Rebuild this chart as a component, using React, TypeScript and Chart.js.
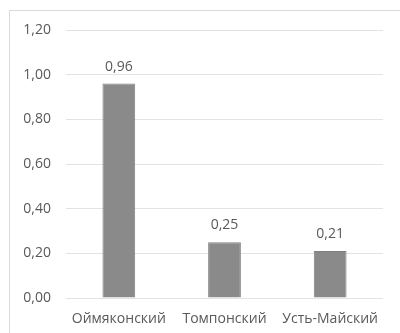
import React, { useEffect, useRef } from "react";
import { Chart, registerables } from "chart.js";

Chart.register(...registerables);

const districts = ["Оймяконский", "Томпонский", "Усть-Майский"];
const values = [0.96, 0.25, 0.21];
const yMin = 0;
const yMax = 1.2;
const yStep = 0.2;

const fmt = (v: number) => v.toFixed(2).replace(".", ",");

const FONT = "'Open Sans', 'Noto Sans', sans-serif";
const TEXT = "#595959";

const frame = {
  id: "frame",
  beforeDraw(chart: any) {
    const ctx = chart.ctx;
    ctx.save();
    ctx.strokeStyle = "#d9d9d9";
    ctx.lineWidth = 1;
    ctx.beginPath();
    ctx.moveTo(9.5, chart.height);
    ctx.lineTo(9.5, 10.5);
    ctx.lineTo(chart.width, 10.5);
    ctx.stroke();
    ctx.restore();
  },
};

const valueLabels = {
  id: "valueLabels",
  afterDatasetsDraw(chart: any) {
    const ctx = chart.ctx;
    const meta = chart.getDatasetMeta(0);
    ctx.save();
    ctx.fillStyle = TEXT;
    ctx.font = `14px ${FONT}`;
    ctx.textAlign = "center";
    ctx.textBaseline = "middle";
    meta.data.forEach((bar: any, i: number) => {
      ctx.fillText(fmt(values[i]), bar.x, bar.y - 17);
    });
    ctx.restore();
  },
};

export default function App() {
  const ref = useRef<HTMLCanvasElement>(null);
  useEffect(() => {
    if (!ref.current) return;
    const chart = new Chart(ref.current, {
      type: "bar",
      data: {
        labels: districts,
        datasets: [
          {
            data: values,
            backgroundColor: "#8a8a8a",
            borderColor: "#808080",
            borderWidth: 1,
            barPercentage: 0.5,
            categoryPercentage: 0.62,
          },
        ],
      },
      options: {
        responsive: false,
        animation: false,
        layout: { padding: { top: 30, right: 17, left: 10, bottom: 5 } },
        plugins: { legend: { display: false }, tooltip: { enabled: false } },
        scales: {
          x: {
            afterFit(scale: any) {
              scale.height = 30;
            },
            grid: { display: false, drawTicks: false },
            border: { display: false },
            ticks: { color: TEXT, font: { family: FONT, size: 14 }, padding: 13, maxRotation: 0 },
          },
          y: {
            min: yMin,
            max: yMax,
            afterFit(scale: any) {
              scale.width = 56;
            },
            ticks: {
              stepSize: yStep,
              color: TEXT,
              padding: 15,
              font: { family: FONT, size: 14 },
              callback: (v: any) => fmt(Number(v)),
            },
            grid: { color: "#e3e3e3", drawTicks: false },
            border: { display: false },
          },
        },
      },
      plugins: [frame, valueLabels],
    });
    return () => chart.destroy();
  }, []);
  return (
    <div style={{ position: "absolute", left: 0, top: 0, width: 400, height: 333, background: "#fff" }}>
      <canvas ref={ref} width={400} height={333} />
    </div>
  );
}
